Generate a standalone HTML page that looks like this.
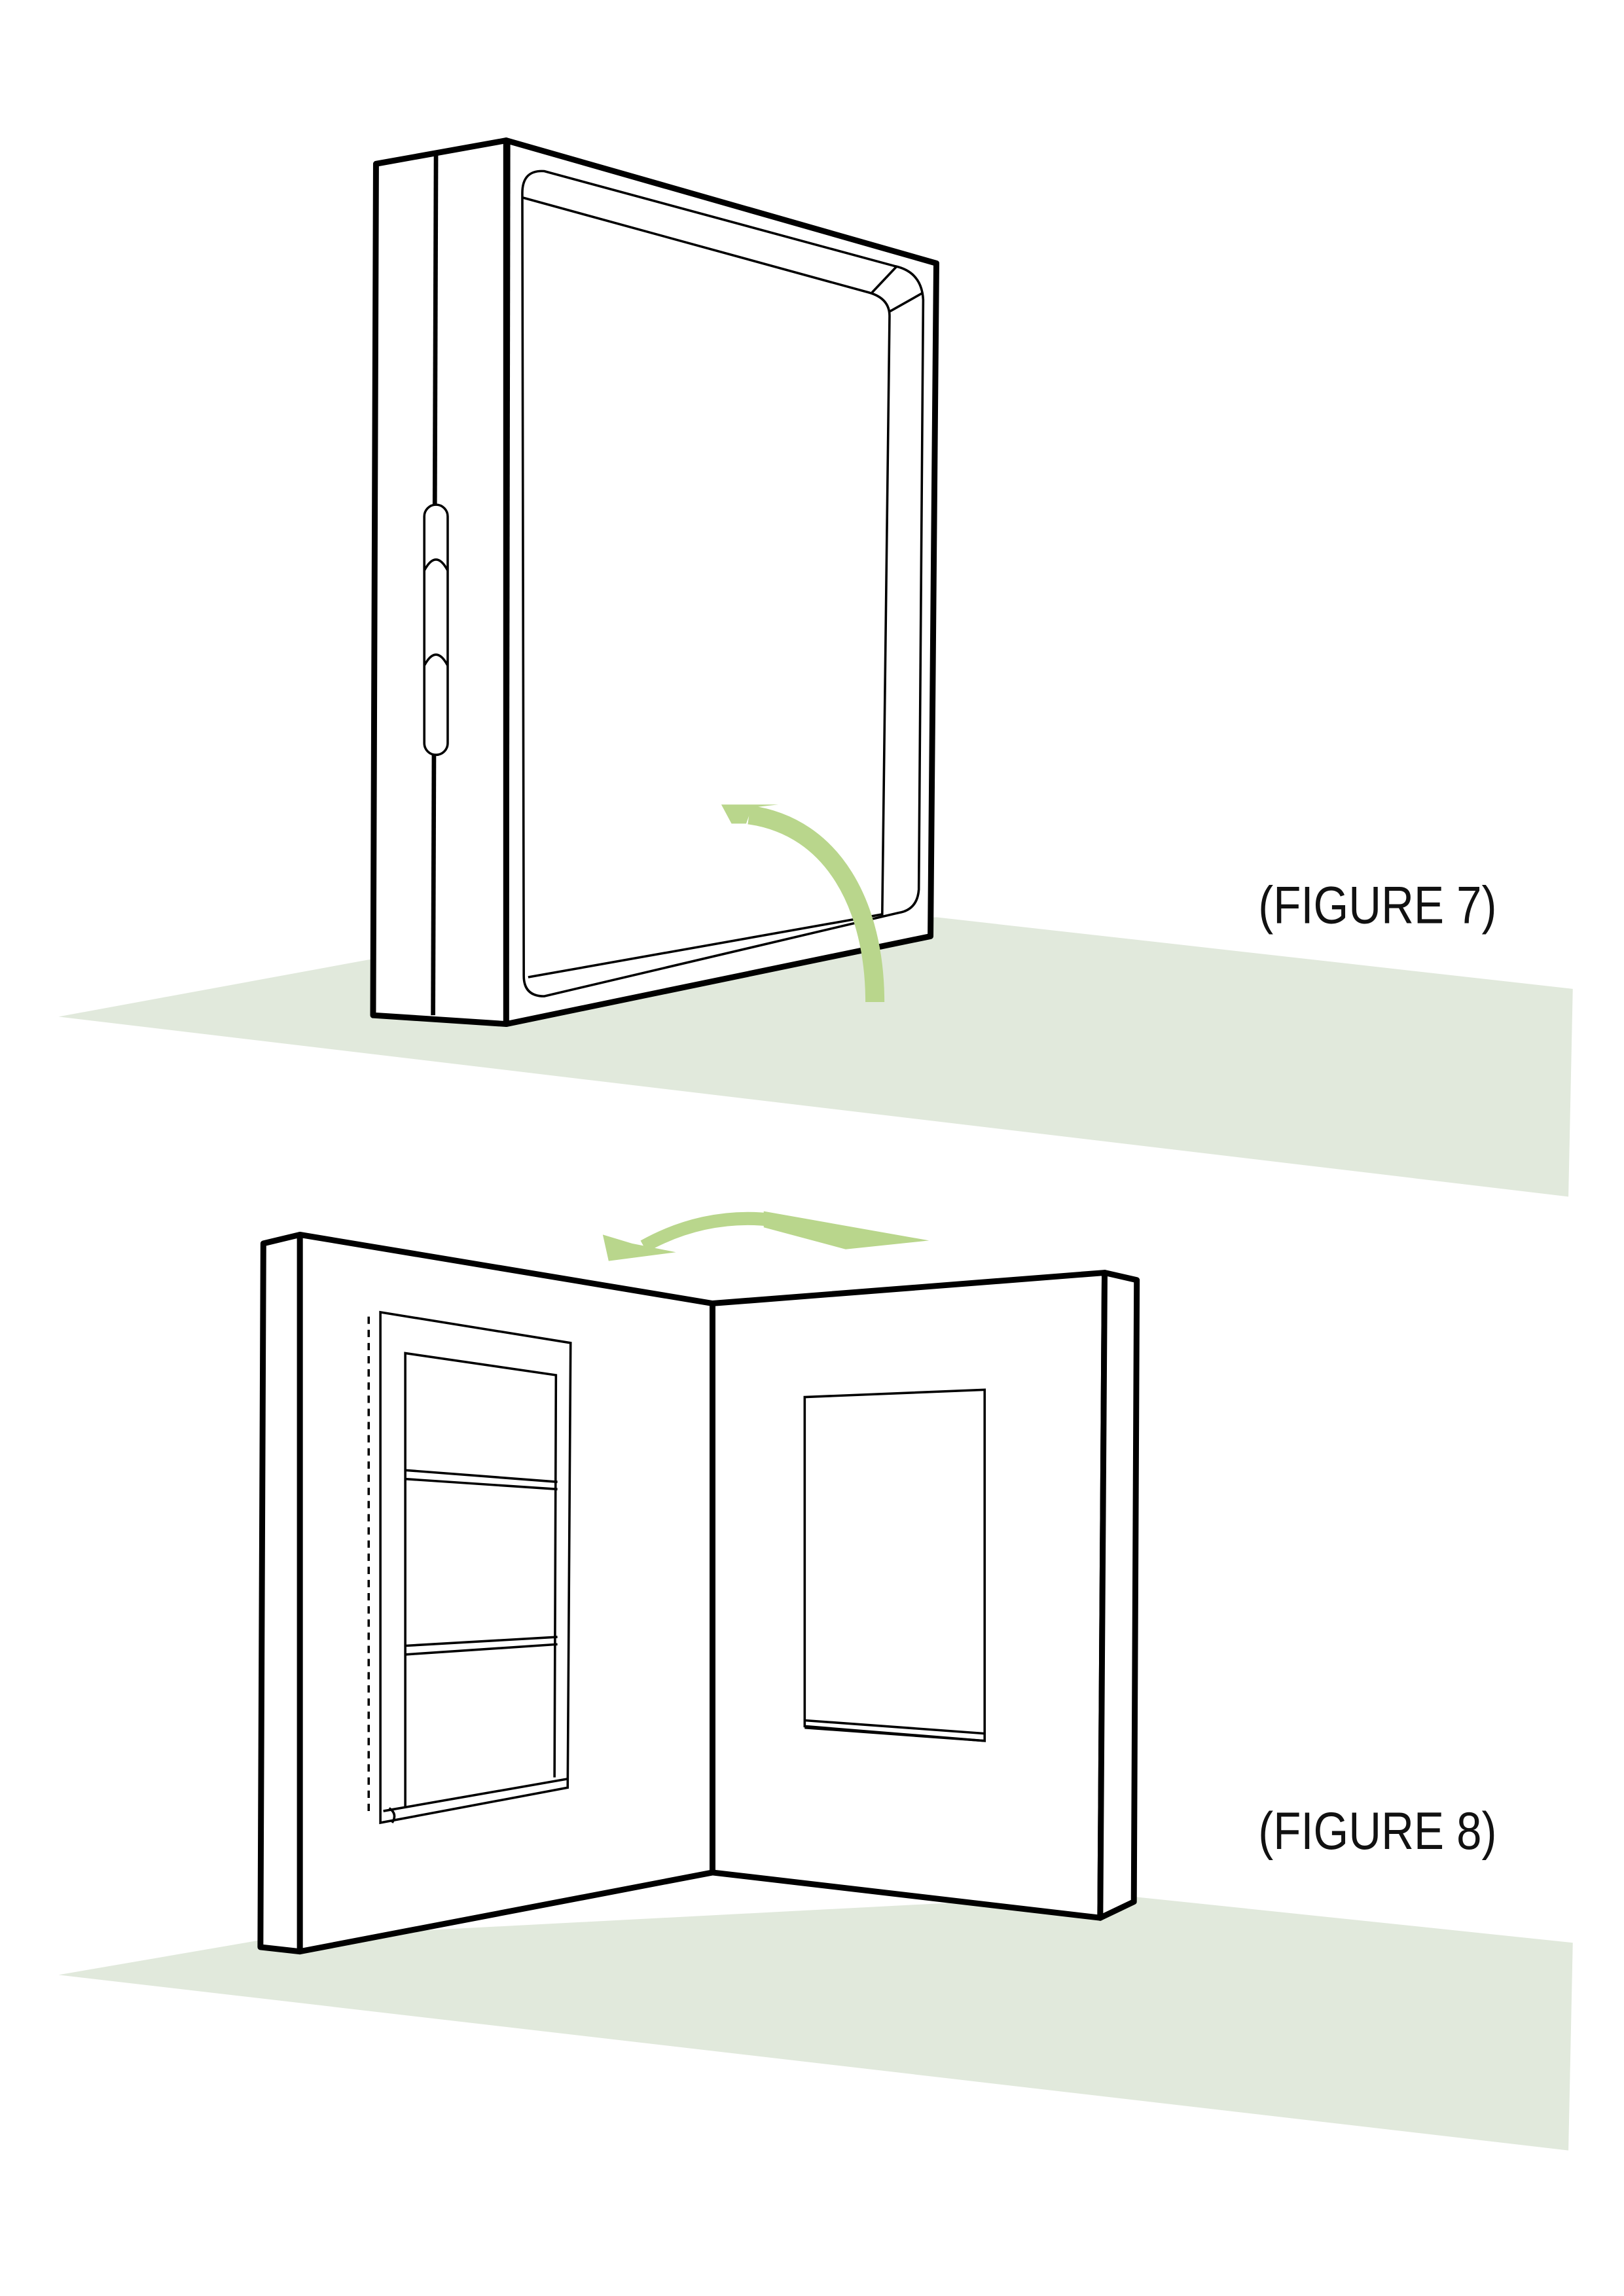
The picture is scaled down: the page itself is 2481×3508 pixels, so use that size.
<!DOCTYPE html>
<html><head><meta charset="utf-8"><style>
html,body{margin:0;padding:0;background:#fff}
svg{display:block}
</style></head><body>
<svg width="2481" height="3508" viewBox="0 0 1110 1569.5" preserveAspectRatio="none" xmlns="http://www.w3.org/2000/svg">
<rect width="1110" height="1569.5" fill="#fff"/>
<!-- FIGURE 7 -->
<polygon points="40,695 252,656 640,627 1075,676 1072,818" fill="#e1e9dc"/>
<g fill="#fff" stroke="#000" stroke-linejoin="round">
<polygon points="257,112 346,96 346,700 255,694" stroke-width="4"/>
<polygon points="346,96 640,180 636,640 346,700" stroke-width="4"/>
</g>
<g fill="none" stroke="#000" stroke-width="1.6">
<line x1="298" y1="106" x2="296" y2="694" stroke-width="3"/>
<line x1="348" y1="98" x2="347" y2="698"/>
<path d="M357,132 Q357,116 372,117 L612,182 Q630,186 631,205 L628,608 Q627,622 614,624 L372,681 Q358,681 358,667 Z"/>
<path d="M357,135 L594,200 Q608,204 608,216 L603,625 L361,668"/>
<line x1="596" y1="200" x2="613" y2="182"/>
<line x1="608" y1="213" x2="631" y2="200"/>
<rect x="290" y="345" width="16" height="171" rx="8" fill="#fff"/>
<path d="M290,390 Q298,375 306,390 M290,455 Q298,440 306,455"/>
</g>
<path d="M598,685 C598,620 570,565 512,557" fill="none" stroke="#b9d68c" stroke-width="13"/>
<polygon points="493,550 532,550 514,552 510,563 500,563" fill="#b9d68c"/>
<text x="860" y="631" textLength="163" lengthAdjust="spacingAndGlyphs" font-family="'Liberation Sans Narrow','Liberation Sans',sans-serif" font-size="36" fill="#111">(FIGURE 7)</text>

<!-- FIGURE 8 -->
<polygon points="40,1350 185,1325 760,1295 1075,1328 1072,1470" fill="#e1e9dc"/>
<g fill="#fff" stroke="#000" stroke-linejoin="round" stroke-width="4">
<polygon points="180,850 205,844 205,1334 178,1331"/>
<polygon points="205,844 487,891 487,1280 205,1334"/>
<polygon points="487,891 755,870 752,1311 487,1280"/>
<polygon points="755,870 777,875 775,1300 752,1311"/>
</g>
<g fill="none" stroke="#000" stroke-width="1.6">
<line x1="252" y1="900" x2="252" y2="1240" stroke-dasharray="5,4"/>
<polygon points="260,897 390,918 388,1222 260,1246"/>
<polyline points="277,1235 277,925 380,940 379,1215"/>
<line x1="262" y1="1238" x2="388" y2="1216"/>
<path d="M266,1236 Q272,1240 268,1246"/>
<line x1="277" y1="1005" x2="381" y2="1013"/>
<line x1="277" y1="1011" x2="381" y2="1018"/>
<line x1="277" y1="1125" x2="381" y2="1119"/>
<line x1="277" y1="1131" x2="381" y2="1124"/>
<polygon points="550,955 673,950 673,1190 550,1180"/>
<line x1="550" y1="1176" x2="673" y2="1185"/>
<line x1="550" y1="1181" x2="673" y2="1190"/>
</g>
<path d="M528,834 C495,830 465,838 440,852" fill="none" stroke="#b9d68c" stroke-width="9"/>
<polygon points="522,828 635,848 578,854 522,839" fill="#b9d68c"/>
<polygon points="412,844 432,850 462,856 416,862" fill="#b9d68c"/>
<text x="860" y="1264" textLength="163" lengthAdjust="spacingAndGlyphs" font-family="'Liberation Sans Narrow','Liberation Sans',sans-serif" font-size="36" fill="#111">(FIGURE 8)</text>
</svg>
</body></html>
